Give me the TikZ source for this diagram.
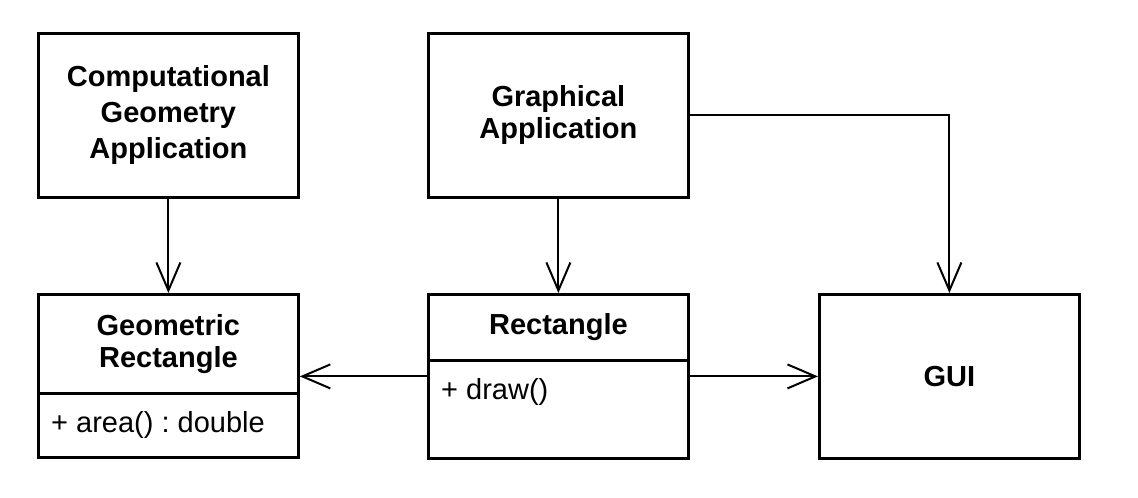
\documentclass[tikz,border=0pt]{standalone}
\usepackage{fontspec}
\setmainfont{Liberation Sans}
\usetikzlibrary{arrows.meta}
\frenchspacing
\begin{document}
\begin{tikzpicture}[x=1pt,y=-1pt,
  box/.style={draw, line width=2.8pt, rectangle, minimum width=260pt, inner sep=0pt,
    anchor=north west, align=center, font=\fontsize{29}{32}\selectfont\bfseries},
  optext/.style={anchor=base west, inner sep=0pt, font=\fontsize{29}{32}\selectfont},
  assoc/.style={line width=2pt, -{Straight Barb[length=28pt,width=24pt,line width=2pt]}}]
\useasboundingbox (0,0) rectangle (1138,498);
% top row
\node[box, minimum height=164pt, font=\fontsize{29}{36}\selectfont\bfseries] (cga) at (37,32) {Computational\\Geometry\\Application};
\node[box, minimum height=164pt] (ga) at (427,32) {Graphical\\Application};
% bottom row
\node[box, minimum height=99pt] (geo) at (37,293) {Geometric\\Rectangle};
\node[box, minimum height=64pt] (geoattr) at (37,392) {};
\node[optext] (areaop) at (51,432) {+ area() : double};
\node[box, minimum height=66pt] (rect) at (427,293) {Rectangle};
\node[box, minimum height=98pt] (rectops) at (427,359) {};
\node[optext] (drawop) at (441,399) {+ draw()};
\node[box, minimum height=164pt] (gui) at (818,293) {GUI};
% connectors
\draw[assoc] (cga.south) -- (geo.north);
\draw[assoc] (ga.south) -- (rect.north);
\draw[assoc] (ga.east) -- (ga.east -| gui.north) -- (gui.north);
\draw[assoc] (gui.west -| rectops.west) -- (gui.west -| geo.east);
\draw[assoc] (gui.west -| rectops.east) -- (gui.west);
\end{tikzpicture}
\end{document}
